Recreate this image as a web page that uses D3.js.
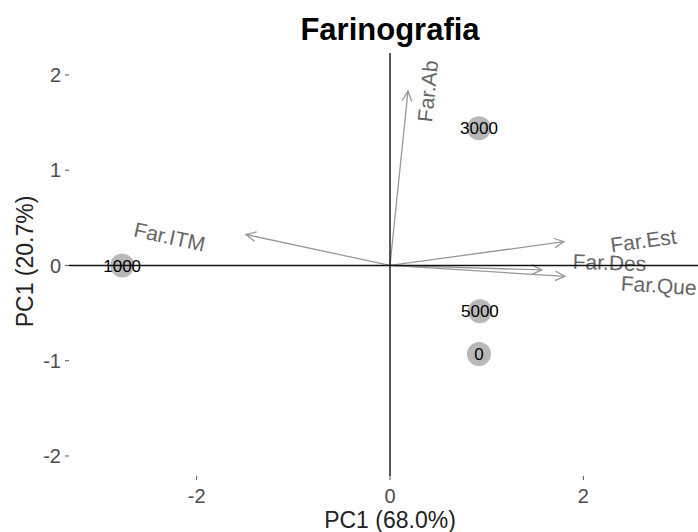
<!DOCTYPE html>
<html>
<head>
<meta charset="utf-8">
<script src="https://cdn.jsdelivr.net/npm/d3@7"></script>
<style>
  body { margin: 0; background: #fff; }
  svg { font-family: "Liberation Sans", Arial, sans-serif; }
</style>
</head>
<body>
<svg width="698" height="532"></svg>
<script>
// samples (scores)
var sampleNames = ["0", "1000", "3000", "5000"];
var samplePC1 = [0.92, -2.77, 0.92, 0.93];
var samplePC2 = [-0.93, 0.0, 1.44, -0.48];

// variables (loadings)
var varNames = ["Far.Ab", "Far.ITM", "Far.Est", "Far.Des", "Far.Que"];
var varPC1 = [0.186, -1.49, 1.80, 1.57, 1.81];
var varPC2 = [1.83, 0.325, 0.25, -0.047, -0.115];
// where the variable labels sit
var labPC1 = [0.39, -2.28, 2.62, 2.27, 2.78];
var labPC2 = [1.83, 0.30, 0.26, 0.03, -0.21];

var xTicks = [-2, 0, 2];
var yTicks = [-2, -1, 0, 1, 2];

var svg = d3.select("svg"),
    width = +svg.attr("width"),
    height = +svg.attr("height");

var x = d3.scaleLinear().domain([-3.32, 3.32]).range([69, 711]);
var y = d3.scaleLinear().domain([-2.21, 2.23]).range([476, 53]);

// title
svg.append("text")
    .attr("x", x(0))
    .attr("y", 40)
    .attr("text-anchor", "middle")
    .attr("font-size", 31)
    .attr("font-weight", "bold")
    .attr("fill", "#000")
    .text("Farinografia");

// y axis ticks + labels
var yAxis = svg.append("g");
yTicks.forEach(function (t) {
  yAxis.append("line")
      .attr("x1", 65).attr("x2", 69)
      .attr("y1", y(t)).attr("y2", y(t))
      .attr("stroke", "#555").attr("stroke-width", 1);
  yAxis.append("text")
      .attr("x", 61)
      .attr("y", y(t))
      .attr("dy", "0.36em")
      .attr("text-anchor", "end")
      .attr("font-size", 20)
      .attr("fill", "#4d4d4d")
      .text(t);
});

// x axis ticks + labels
var xAxis = svg.append("g");
xTicks.forEach(function (t) {
  xAxis.append("line")
      .attr("x1", x(t)).attr("x2", x(t))
      .attr("y1", 476).attr("y2", 480)
      .attr("stroke", "#555").attr("stroke-width", 1);
  xAxis.append("text")
      .attr("x", x(t))
      .attr("y", 503)
      .attr("text-anchor", "middle")
      .attr("font-size", 20)
      .attr("fill", "#4d4d4d")
      .text(t);
});

// axis titles
svg.append("text")
    .attr("x", x(0))
    .attr("y", 528)
    .attr("text-anchor", "middle")
    .attr("font-size", 23)
    .attr("fill", "#222")
    .text("PC1 (68.0%)");

svg.append("text")
    .attr("transform", "translate(33," + (y(0) - 4) + ") rotate(-90)")
    .attr("text-anchor", "middle")
    .attr("font-size", 23)
    .attr("fill", "#222")
    .text("PC1 (20.7%)");

// points
var pts = svg.append("g");
sampleNames.forEach(function (n, i) {
  pts.append("circle")
      .attr("cx", x(samplePC1[i]))
      .attr("cy", y(samplePC2[i]))
      .attr("r", 12)
      .attr("fill", "#b8b8b8");
});

// arrows
var arrows = svg.append("g")
    .attr("stroke", "#999")
    .attr("stroke-width", 1.3)
    .attr("fill", "none");
varNames.forEach(function (n, i) {
  var x0 = x(0), y0 = y(0),
      x1 = x(varPC1[i]), y1 = y(varPC2[i]),
      a = Math.atan2(y1 - y0, x1 - x0),
      len = 11, spread = Math.PI / 7;
  arrows.append("path")
      .attr("d", "M" + x0 + "," + y0 + "L" + x1 + "," + y1 +
            "M" + (x1 - len * Math.cos(a - spread)) + "," + (y1 - len * Math.sin(a - spread)) +
            "L" + x1 + "," + y1 +
            "L" + (x1 - len * Math.cos(a + spread)) + "," + (y1 - len * Math.sin(a + spread)));
});

// variable labels, rotated like ggbiplot: atan(pc2 / pc1)
varNames.forEach(function (n, i) {
  var ang = -Math.atan(varPC2[i] / varPC1[i]) * 180 / Math.PI;
  svg.append("text")
      .attr("transform", "translate(" + x(labPC1[i]) + "," + y(labPC2[i]) + ") rotate(" + ang + ")")
      .attr("text-anchor", "middle")
      .attr("dy", "0.35em")
      .attr("font-size", 21)
      .attr("fill", "#666")
      .text(n);
});

// zero lines
svg.append("line")
    .attr("x1", x.range()[0]).attr("x2", x.range()[1])
    .attr("y1", y(0)).attr("y2", y(0))
    .attr("stroke", "#111").attr("stroke-width", 1.4);
svg.append("line")
    .attr("x1", x(0)).attr("x2", x(0))
    .attr("y1", y.range()[1]).attr("y2", y.range()[0])
    .attr("stroke", "#111").attr("stroke-width", 1.4);

// point labels
sampleNames.forEach(function (n, i) {
  svg.append("text")
      .attr("x", x(samplePC1[i]))
      .attr("y", y(samplePC2[i]))
      .attr("dy", "0.36em")
      .attr("text-anchor", "middle")
      .attr("font-size", 17)
      .attr("fill", "#000")
      .text(n);
});
</script>
</body>
</html>
